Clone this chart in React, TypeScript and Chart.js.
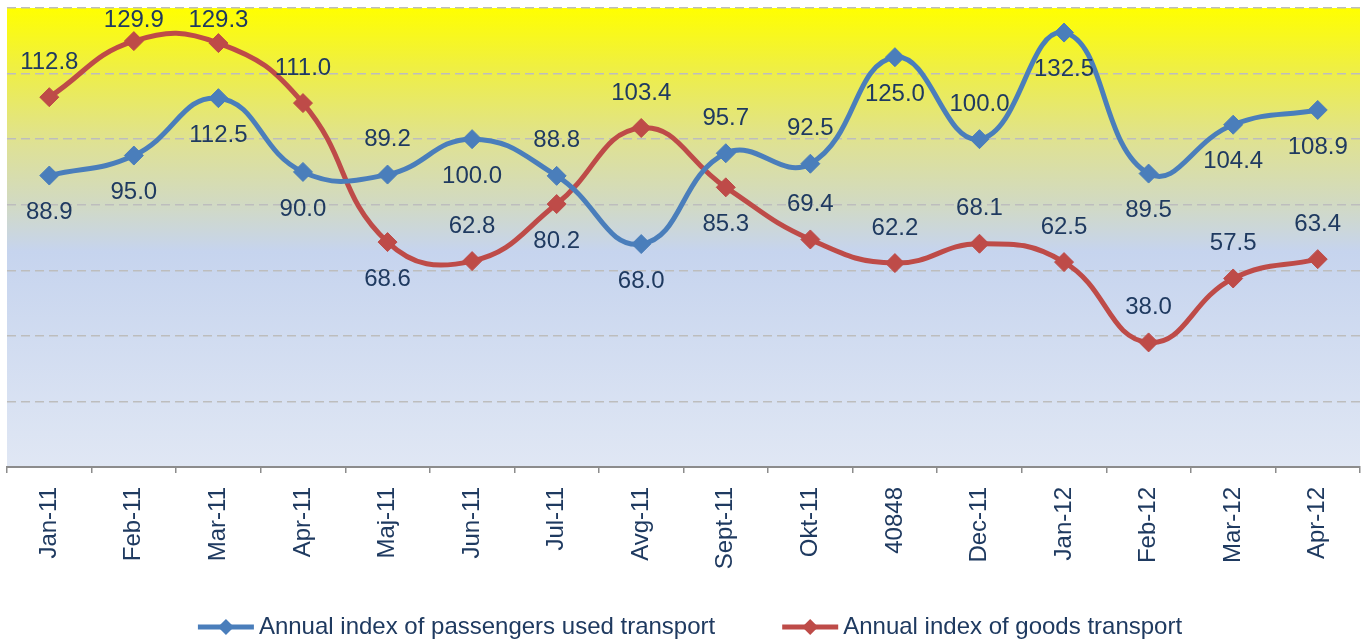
import React, { useEffect, useRef } from "react";
import { Chart, registerables } from "chart.js";

Chart.register(...registerables);

const categories = ["Jan-11", "Feb-11", "Mar-11", "Apr-11", "Maj-11", "Jun-11", "Jul-11", "Avg-11", "Sept-11", "Okt-11", "40848", "Dec-11", "Jan-12", "Feb-12", "Mar-12", "Apr-12"];
const passengers = [88.9, 95.0, 112.5, 90.0, 89.2, 100.0, 88.8, 68.0, 95.7, 92.5, 125.0, 100.0, 132.5, 89.5, 104.4, 108.9];
const goods = [112.8, 129.9, 129.3, 111.0, 68.6, 62.8, 80.2, 103.4, 85.3, 69.4, 62.2, 68.1, 62.5, 38.0, 57.5, 63.4];
// label placement: "a" = above point, "b" = below point
const passengersLabelPos = ["b", "b", "b", "b", "a", "b", "a", "b", "a", "a", "b", "a", "b", "b", "b", "b"];
const goodsLabelPos = ["a", "a", "a", "a", "b", "a", "b", "a", "b", "a", "a", "a", "a", "a", "a", "a"];
const seriesNames = ["Annual index of passengers used transport", "Annual index of goods transport"];

const BLUE = "#4A7EBB";
const RED = "#BE4B48";
const TEXT = "#1F3A60";
const FONT = "Arial, 'Liberation Sans', sans-serif";
const FS = 24;

const bgPlugin = {
  id: "bgGradient",
  beforeDraw(chart: any) {
    const { ctx, chartArea } = chart;
    if (!chartArea) return;
    const g = ctx.createLinearGradient(0, chartArea.top, 0, chartArea.bottom);
    g.addColorStop(0, "#FFFF00");
    g.addColorStop(0.14, "#EEEE48");
    g.addColorStop(0.3, "#DEE196");
    g.addColorStop(0.42, "#D2DAC0");
    g.addColorStop(0.53, "#C6D4EE");
    g.addColorStop(1, "#E0E7F4");
    ctx.save();
    ctx.fillStyle = g;
    ctx.fillRect(chartArea.left, chartArea.top, chartArea.right - chartArea.left, chartArea.bottom - chartArea.top);
    ctx.restore();
  },
};

const labelPlugin = {
  id: "pointLabels",
  afterDatasetsDraw(chart: any) {
    const { ctx, chartArea } = chart;
    const positions = [passengersLabelPos, goodsLabelPos];
    ctx.save();
    ctx.font = `${FS}px ${FONT}`;
    ctx.fillStyle = TEXT;
    ctx.textAlign = "center";
    ctx.textBaseline = "middle";
    chart.data.datasets.forEach((ds: any, di: number) => {
      const meta = chart.getDatasetMeta(di);
      meta.data.forEach((pt: any, i: number) => {
        const v = ds.data[i] as number;
        const off = positions[di][i] === "a" ? -35 : 37;
        const y = Math.max(pt.y + off, chartArea.top + 12);
        ctx.fillText(v.toFixed(1), pt.x, y);
      });
    });
    ctx.restore();
  },
};

const legendPlugin = {
  id: "customLegend",
  afterDraw(chart: any) {
    const { ctx } = chart;
    const iconW = 56;
    const gapText = 5;
    const gapItems = 67;
    ctx.save();
    ctx.font = `${FS}px ${FONT}`;
    const items = chart.data.datasets.map((ds: any) => ({
      text: ds.label as string,
      color: ds.borderColor as string,
      w: ctx.measureText(ds.label).width,
    }));
    let total = 0;
    items.forEach((it: any, i: number) => {
      total += iconW + gapText + it.w + (i > 0 ? gapItems : 0);
    });
    let x = chart.width / 2 + 8 - total / 2;
    const y = 627;
    items.forEach((it: any) => {
      ctx.strokeStyle = it.color;
      ctx.lineWidth = 5;
      ctx.beginPath();
      ctx.moveTo(x, y);
      ctx.lineTo(x + iconW, y);
      ctx.stroke();
      ctx.fillStyle = it.color;
      const cx = x + iconW / 2;
      ctx.beginPath();
      ctx.moveTo(cx, y - 8);
      ctx.lineTo(cx + 8, y);
      ctx.lineTo(cx, y + 8);
      ctx.lineTo(cx - 8, y);
      ctx.closePath();
      ctx.fill();
      ctx.fillStyle = TEXT;
      ctx.textAlign = "left";
      ctx.textBaseline = "middle";
      ctx.fillText(it.text, x + iconW + gapText, y);
      x += iconW + gapText + it.w + gapItems;
    });
    ctx.restore();
  },
};

export default function App() {
  const ref = useRef<HTMLCanvasElement | null>(null);
  useEffect(() => {
    if (!ref.current) return;
    const mk = (label: string, data: number[], color: string) => ({
      label,
      data,
      borderColor: color,
      backgroundColor: color,
      borderWidth: 5,
      pointStyle: "rectRot" as const,
      pointRadius: 9.5,
      pointBackgroundColor: color,
      pointBorderColor: color,
      pointBorderWidth: 1,
      tension: 0.45,
      fill: false,
      clip: false as any,
    });
    const chart = new Chart(ref.current, {
      type: "line",
      data: {
        labels: categories,
        datasets: [mk(seriesNames[0], passengers, BLUE), mk(seriesNames[1], goods, RED)],
      },
      options: {
        responsive: true,
        maintainAspectRatio: false,
        animation: false,
        layout: { autoPadding: false, padding: { left: 7, top: 8, right: 4, bottom: 60 } },
        plugins: {
          tooltip: { enabled: false },
          legend: { display: false },
        },
        scales: {
          x: {
            offset: true,
            grid: {
              offset: true,
              drawOnChartArea: false,
              drawTicks: true,
              tickLength: 6,
              color: "#8C8C8C",
              lineWidth: 1.5,
            },
            border: { display: true, color: "#8C8C8C", width: 2 },
            ticks: {
              color: TEXT,
              font: { family: FONT, size: FS },
              maxRotation: 90,
              minRotation: 90,
              padding: 14,
              autoSkip: false,
            },
            afterFit: (s: any) => {
              s.height = 641 - 60 - 467;
              s.paddingLeft = 0;
              s.paddingRight = 0;
            },
          },
          y: {
            min: 0,
            max: 140,
            ticks: { display: false, stepSize: 20 },
            border: { display: false, dash: [9, 5] },
            grid: {
              drawTicks: false,
              color: "#BDBDBD",
              lineWidth: 1.5,
            },
            afterFit: (s: any) => {
              s.width = 0;
              s.paddingTop = 0;
              s.paddingBottom = 0;
            },
          },
        },
      },
      plugins: [bgPlugin, labelPlugin, legendPlugin],
    });
    return () => chart.destroy();
  }, []);
  return (
    <div style={{ position: "absolute", left: 0, top: 0, width: 1364, height: 641 }}>
      <canvas ref={ref} />
    </div>
  );
}
